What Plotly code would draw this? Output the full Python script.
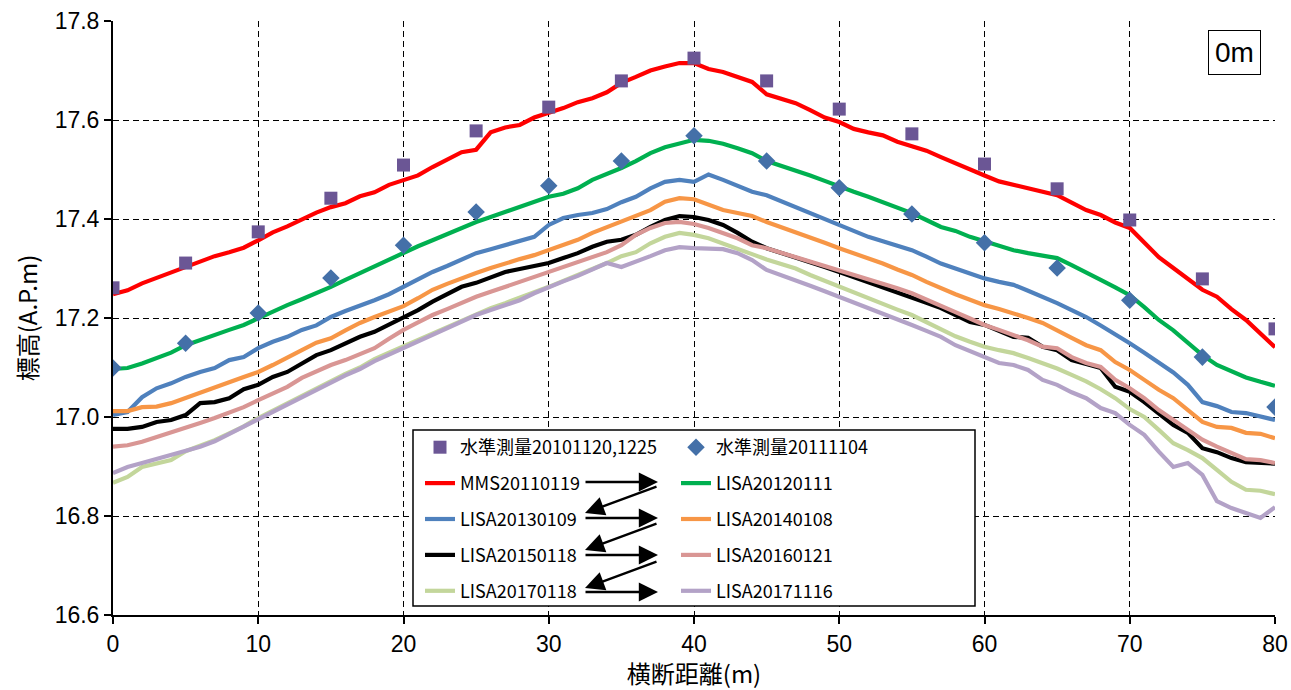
import plotly.graph_objects as go

# Cross-section distance (m), 1 m spacing
dist = list(range(0, 81))

# Levelling survey points (every 5 m)
survey_x = [0, 5, 10, 15, 20, 25, 30, 35, 40, 45, 50, 55, 60, 65, 70, 75, 80]
survey_2010 = [17.261, 17.311, 17.374, 17.442, 17.509, 17.578, 17.626, 17.679, 17.725,
               17.679, 17.622, 17.572, 17.511, 17.461, 17.398, 17.279, 17.178]
survey_2011 = [17.099, 17.149, 17.210, 17.281, 17.347, 17.414, 17.467, 17.517, 17.568,
               17.517, 17.463, 17.410, 17.352, 17.301, 17.236, 17.121, 17.020]

mms_20110119 = [17.248, 17.256, 17.270, 17.281, 17.294, 17.303, 17.315, 17.325, 17.333, 17.342,
                17.357, 17.373, 17.385, 17.400, 17.413, 17.424, 17.432, 17.446, 17.454, 17.469,
                17.479, 17.488, 17.505, 17.521, 17.535, 17.540, 17.575, 17.585, 17.590, 17.605,
                17.614, 17.624, 17.636, 17.644, 17.656, 17.675, 17.687, 17.700, 17.708, 17.715,
                17.715, 17.703, 17.697, 17.686, 17.677, 17.652, 17.642, 17.634, 17.620, 17.605,
                17.596, 17.582, 17.575, 17.569, 17.556, 17.546, 17.538, 17.525, 17.512, 17.499,
                17.488, 17.476, 17.469, 17.463, 17.454, 17.448, 17.433, 17.418, 17.408, 17.393,
                17.382, 17.351, 17.323, 17.301, 17.280, 17.257, 17.243, 17.218, 17.196, 17.168,
                17.141]
lisa_20120111 = [17.097, 17.099, 17.108, 17.118, 17.130, 17.145, 17.156, 17.167, 17.176, 17.186,
                 17.200, 17.213, 17.226, 17.238, 17.250, 17.263, 17.277, 17.291, 17.305, 17.318,
                 17.333, 17.345, 17.357, 17.370, 17.382, 17.394, 17.404, 17.414, 17.424, 17.435,
                 17.445, 17.451, 17.462, 17.479, 17.490, 17.503, 17.517, 17.533, 17.545, 17.553,
                 17.560, 17.558, 17.552, 17.543, 17.533, 17.517, 17.508, 17.499, 17.488, 17.477,
                 17.465, 17.455, 17.445, 17.434, 17.423, 17.412, 17.398, 17.384, 17.376, 17.364,
                 17.355, 17.345, 17.337, 17.331, 17.326, 17.321, 17.307, 17.291, 17.277, 17.262,
                 17.246, 17.222, 17.196, 17.175, 17.150, 17.125, 17.105, 17.093, 17.080, 17.071,
                 17.063]
lisa_20130109 = [17.004, 17.010, 17.040, 17.058, 17.068, 17.081, 17.091, 17.099, 17.115, 17.121,
                 17.139, 17.152, 17.162, 17.176, 17.185, 17.202, 17.214, 17.224, 17.236, 17.248,
                 17.263, 17.278, 17.293, 17.305, 17.318, 17.331, 17.339, 17.347, 17.355, 17.364,
                 17.388, 17.402, 17.408, 17.412, 17.420, 17.434, 17.445, 17.462, 17.475, 17.479,
                 17.475, 17.490, 17.479, 17.467, 17.455, 17.448, 17.436, 17.425, 17.413, 17.400,
                 17.388, 17.376, 17.364, 17.355, 17.346, 17.337, 17.324, 17.310, 17.300, 17.290,
                 17.280, 17.273, 17.267, 17.255, 17.243, 17.230, 17.216, 17.202, 17.185, 17.168,
                 17.149, 17.130, 17.111, 17.090, 17.065, 17.030, 17.022, 17.010, 17.008, 17.002,
                 16.994]
lisa_20140108 = [17.012, 17.012, 17.020, 17.021, 17.028, 17.038, 17.048, 17.060, 17.070, 17.081,
                 17.091, 17.105, 17.119, 17.135, 17.150, 17.159, 17.175, 17.190, 17.202, 17.213,
                 17.224, 17.240, 17.257, 17.269, 17.281, 17.291, 17.301, 17.311, 17.319, 17.327,
                 17.337, 17.347, 17.358, 17.372, 17.383, 17.394, 17.406, 17.418, 17.435, 17.442,
                 17.440, 17.428, 17.418, 17.412, 17.406, 17.394, 17.384, 17.374, 17.363, 17.352,
                 17.341, 17.331, 17.321, 17.310, 17.298, 17.287, 17.273, 17.260, 17.248, 17.237,
                 17.226, 17.218, 17.210, 17.200, 17.190, 17.176, 17.160, 17.145, 17.135, 17.111,
                 17.095, 17.075, 17.055, 17.038, 17.014, 16.990, 16.980, 16.978, 16.968, 16.966,
                 16.957]
lisa_20150118 = [16.976, 16.976, 16.980, 16.990, 16.994, 17.004, 17.028, 17.030, 17.038, 17.056,
                 17.065, 17.081, 17.091, 17.109, 17.125, 17.135, 17.149, 17.162, 17.172, 17.186,
                 17.200, 17.216, 17.233, 17.248, 17.263, 17.271, 17.283, 17.293, 17.299, 17.305,
                 17.311, 17.321, 17.331, 17.344, 17.354, 17.358, 17.368, 17.384, 17.398, 17.406,
                 17.404, 17.398, 17.388, 17.372, 17.354, 17.341, 17.332, 17.323, 17.313, 17.303,
                 17.293, 17.283, 17.273, 17.263, 17.253, 17.243, 17.231, 17.220, 17.206, 17.192,
                 17.186, 17.174, 17.162, 17.160, 17.142, 17.135, 17.115, 17.107, 17.099, 17.061,
                 17.051, 17.030, 17.008, 16.984, 16.968, 16.937, 16.929, 16.917, 16.909, 16.907,
                 16.906]
lisa_20160121 = [16.940, 16.943, 16.950, 16.959, 16.968, 16.978, 16.988, 16.998, 17.008, 17.020,
                 17.034, 17.048, 17.061, 17.079, 17.093, 17.105, 17.115, 17.127, 17.139, 17.158,
                 17.176, 17.191, 17.206, 17.218, 17.231, 17.243, 17.253, 17.263, 17.272, 17.282,
                 17.291, 17.301, 17.311, 17.322, 17.333, 17.347, 17.368, 17.382, 17.392, 17.394,
                 17.390, 17.382, 17.372, 17.361, 17.347, 17.341, 17.332, 17.323, 17.314, 17.306,
                 17.297, 17.289, 17.280, 17.270, 17.260, 17.250, 17.238, 17.226, 17.212, 17.199,
                 17.186, 17.176, 17.166, 17.155, 17.142, 17.139, 17.121, 17.109, 17.101, 17.075,
                 17.058, 17.038, 17.014, 16.994, 16.974, 16.954, 16.940, 16.927, 16.915, 16.913,
                 16.907]
lisa_20170118 = [16.867, 16.879, 16.899, 16.907, 16.913, 16.931, 16.941, 16.953, 16.967, 16.981,
                 16.998, 17.013, 17.027, 17.041, 17.057, 17.072, 17.087, 17.100, 17.117, 17.130,
                 17.143, 17.157, 17.170, 17.182, 17.196, 17.208, 17.220, 17.230, 17.240, 17.252,
                 17.263, 17.275, 17.287, 17.298, 17.311, 17.325, 17.333, 17.351, 17.364, 17.372,
                 17.368, 17.361, 17.351, 17.341, 17.329, 17.318, 17.309, 17.300, 17.287, 17.275,
                 17.263, 17.252, 17.240, 17.229, 17.217, 17.206, 17.191, 17.177, 17.163, 17.152,
                 17.142, 17.135, 17.129, 17.119, 17.109, 17.098, 17.085, 17.072, 17.056, 17.038,
                 17.016, 17.000, 16.974, 16.947, 16.933, 16.917, 16.893, 16.869, 16.853, 16.851,
                 16.844]
lisa_20171116 = [16.887, 16.899, 16.907, 16.915, 16.923, 16.931, 16.940, 16.951, 16.966, 16.980,
                 16.996, 17.011, 17.026, 17.040, 17.055, 17.070, 17.084, 17.097, 17.113, 17.126,
                 17.139, 17.152, 17.166, 17.180, 17.193, 17.206, 17.216, 17.226, 17.236, 17.250,
                 17.263, 17.274, 17.285, 17.298, 17.311, 17.303, 17.313, 17.325, 17.337, 17.343,
                 17.341, 17.339, 17.339, 17.331, 17.317, 17.297, 17.287, 17.277, 17.265, 17.254,
                 17.243, 17.232, 17.220, 17.209, 17.197, 17.186, 17.174, 17.162, 17.145, 17.133,
                 17.121, 17.109, 17.105, 17.095, 17.075, 17.065, 17.050, 17.038, 17.018, 17.008,
                 16.984, 16.964, 16.930, 16.899, 16.907, 16.883, 16.830, 16.816, 16.806, 16.796,
                 16.818]

x_ticks = [0, 10, 20, 30, 40, 50, 60, 70, 80]
y_ticks = [16.6, 16.8, 17.0, 17.2, 17.4, 17.6, 17.8]
y_tick_text = ["16.6", "16.8", "17.0", "17.2", "17.4", "17.6", "17.8"]

NUM_FONT = "Liberation Sans, Arial, Noto Sans CJK JP"
JP_FONT = "Noto Sans CJK JP, Liberation Sans"

# (name, values, colour, legend column)
profiles = [
    ("MMS20110119", mms_20110119, "#FF0000", "legend"),
    ("LISA20120111", lisa_20120111, "#00B050", "legend2"),
    ("LISA20130109", lisa_20130109, "#4F81BD", "legend"),
    ("LISA20140108", lisa_20140108, "#F79646", "legend2"),
    ("LISA20150118", lisa_20150118, "#000000", "legend"),
    ("LISA20160121", lisa_20160121, "#D99694", "legend2"),
    ("LISA20170118", lisa_20170118, "#C3D69B", "legend"),
    ("LISA20171116", lisa_20171116, "#B3A2C7", "legend2"),
]

fig = go.Figure()

# Profile lines: later surveys drawn on top of earlier ones
for i, (name, vals, col, leg) in enumerate(profiles):
    fig.add_trace(go.Scatter(
        x=dist, y=vals, mode="lines", name=name,
        line=dict(color=col, width=4.2), legend=leg,
        legendgroup=name, legendrank=10 + i,
    ))

# Survey markers on top of the lines
fig.add_trace(go.Scatter(
    x=survey_x, y=survey_2010, mode="markers", name="水準測量20101120,1225",
    marker=dict(symbol="square", size=13, color="#6B5695"),
    legend="legend", legendgroup="s2010", legendrank=1,
))
fig.add_trace(go.Scatter(
    x=survey_x, y=survey_2011, mode="markers", name="水準測量20111104",
    marker=dict(symbol="diamond", size=13.5, color="#4470A8"),
    legend="legend2", legendgroup="s2011", legendrank=1,
))

L, R, T, B = 113, 16, 21, 75
W, H = 1291, 690
pw, ph = W - L - R, H - T - B


def fx(px):
    return (px - L) / pw


def fy(py):
    return (H - B - py) / ph


leg_common = dict(
    bgcolor="rgba(0,0,0,0)", borderwidth=0,
    font=dict(family=JP_FONT, size=18, color="#000000"),
    tracegroupgap=9.5, itemwidth=30,
    xanchor="left", yanchor="top", traceorder="grouped",
)

fig.update_layout(
    width=W, height=H,
    margin=dict(l=L, r=R, t=T, b=B, autoexpand=False),
    paper_bgcolor="white", plot_bgcolor="white",
    showlegend=True,
    legend=dict(x=fx(420), y=fy(429), **leg_common),
    legend2=dict(x=fx(676), y=fy(429), **leg_common),
    xaxis=dict(
        range=[0, 80], tickvals=x_ticks, ticks="outside", ticklen=7,
        tickcolor="black", tickwidth=1.5, automargin=False,
        showline=True, linecolor="black", linewidth=2,
        showgrid=True, gridcolor="black", gridwidth=1.2, griddash="6px,4px",
        zeroline=False,
        tickfont=dict(family=NUM_FONT, size=23, color="black"),
        title=dict(text="横断距離(m)", font=dict(family=JP_FONT, size=24, color="black"),
                   standoff=10),
    ),
    yaxis=dict(
        range=[16.6, 17.8], tickvals=y_ticks, ticktext=y_tick_text,
        ticks="outside", ticklen=7, tickcolor="black", tickwidth=1.5, automargin=False,
        showline=True, linecolor="black", linewidth=2,
        showgrid=True, gridcolor="black", gridwidth=1.2, griddash="6px,4px",
        zeroline=False,
        tickfont=dict(family=NUM_FONT, size=23, color="black"),
        title=dict(text="標高(A.P.m)", font=dict(family=JP_FONT, size=24, color="black"),
                   standoff=10),
    ),
)

# Legend frame
fig.add_shape(type="rect", xref="paper", yref="paper",
              x0=fx(413), x1=fx(975), y0=fy(606), y1=fy(430),
              line=dict(color="black", width=1.5), fillcolor="white", layer="above")

# Sequence arrows between legend columns
for yy in (482, 518, 555, 592):
    fig.add_annotation(x=fx(658), y=fy(yy), xref="paper", yref="paper",
                       ax=-74, ay=0, text="", showarrow=True,
                       arrowhead=2, arrowsize=1.6, arrowwidth=2.4, arrowcolor="black")
for yy in (513, 550, 588):
    fig.add_annotation(x=fx(585), y=fy(yy), xref="paper", yref="paper",
                       ax=73, ay=-27, text="", showarrow=True,
                       arrowhead=2, arrowsize=1.6, arrowwidth=2.4, arrowcolor="black")

# Section label
fig.add_annotation(x=fx(1234), y=fy(52), xref="paper", yref="paper",
                   xanchor="center", yanchor="middle",
                   text="0m", showarrow=False,
                   font=dict(family=NUM_FONT, size=28, color="black"),
                   bordercolor="black", borderwidth=1, borderpad=6, bgcolor="white")

fig.write_html("out.html")
